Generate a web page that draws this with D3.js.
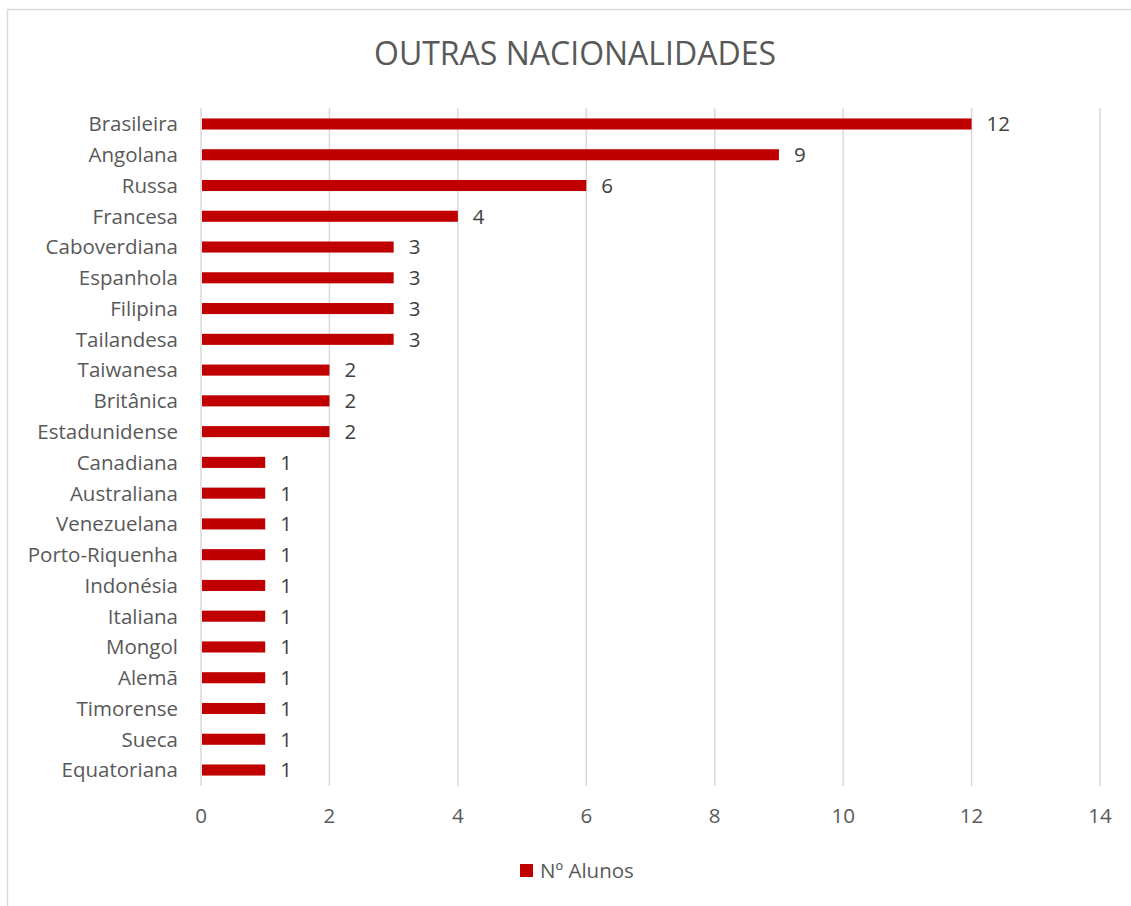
<!DOCTYPE html>
<html><head><meta charset="utf-8">
<script src="https://cdn.jsdelivr.net/npm/d3@7"></script>
<style>body{margin:0;background:#fff}svg{display:block}</style>
</head><body>
<svg id="c" width="1131" height="906"></svg>
<script>
const categories = ["Brasileira","Angolana","Russa","Francesa","Caboverdiana","Espanhola","Filipina","Tailandesa","Taiwanesa","Britânica","Estadunidense","Canadiana","Australiana","Venezuelana","Porto-Riquenha","Indonésia","Italiana","Mongol","Alemã","Timorense","Sueca","Equatoriana"];
const values = [12,9,6,4,3,3,3,3,2,2,2,1,1,1,1,1,1,1,1,1,1,1];
const xTicks = [0,2,4,6,8,10,12,14];
const title = "OUTRAS NACIONALIDADES";
const seriesName = "Nº Alunos";

const font = "'Open Sans', 'Noto Sans', sans-serif";
const fs = 20.5;
const svg = d3.select("#c");
svg.append("rect").attr("x",7.5).attr("y",9.5).attr("width",1140).attr("height",920)
  .attr("fill","#fff").attr("stroke","#d9d9d9").attr("stroke-width",1.5);

const x = d3.scaleLinear().domain([0,14]).range([201,1100]);
const y = d3.scaleBand().domain(categories).range([108.6,785.4]).paddingInner(0.64).paddingOuter(0.32);

svg.append("text").attr("x",575).attr("y",65).attr("text-anchor","middle")
  .attr("font-family",font).attr("font-size",32).attr("fill","#595959").text(title);

// gridlines
svg.append("g").selectAll("line").data(xTicks).join("line")
  .attr("x1",d=>x(d)).attr("x2",d=>x(d)).attr("y1",108).attr("y2",786)
  .attr("stroke","#d9d9d9").attr("stroke-width",1.5);

// bars
svg.append("g").selectAll("rect").data(values).join("rect")
  .attr("x",x(0)+1).attr("y",(d,i)=>y(categories[i]))
  .attr("width",d=>x(d)-x(0)-1).attr("height",y.bandwidth())
  .attr("fill","#c00000");

// value labels
svg.append("g").selectAll("text").data(values).join("text")
  .attr("x",d=>x(d)+15).attr("y",(d,i)=>y(categories[i])+y.bandwidth()/2)
  .attr("dy","0.36em").attr("font-family",font).attr("font-size",fs).attr("fill","#404040")
  .text(d=>d);

// category labels
svg.append("g").selectAll("text").data(categories).join("text")
  .attr("x",178).attr("y",d=>y(d)+y.bandwidth()/2).attr("dy","0.36em")
  .attr("text-anchor","end").attr("font-family",font).attr("font-size",fs).attr("fill","#595959")
  .text(d=>d);

// x tick labels
svg.append("g").selectAll("text").data(xTicks).join("text")
  .attr("x",d=>x(d)).attr("y",816).attr("dy","0.36em").attr("text-anchor","middle")
  .attr("font-family",font).attr("font-size",fs).attr("fill","#595959").text(d=>d);

// legend
svg.append("rect").attr("x",520).attr("y",864).attr("width",13).attr("height",13).attr("fill","#c00000");
svg.append("text").attr("x",540).attr("y",870.5).attr("dy","0.36em")
  .attr("font-family",font).attr("font-size",fs).attr("fill","#595959").text(seriesName);
</script>
</body></html>
